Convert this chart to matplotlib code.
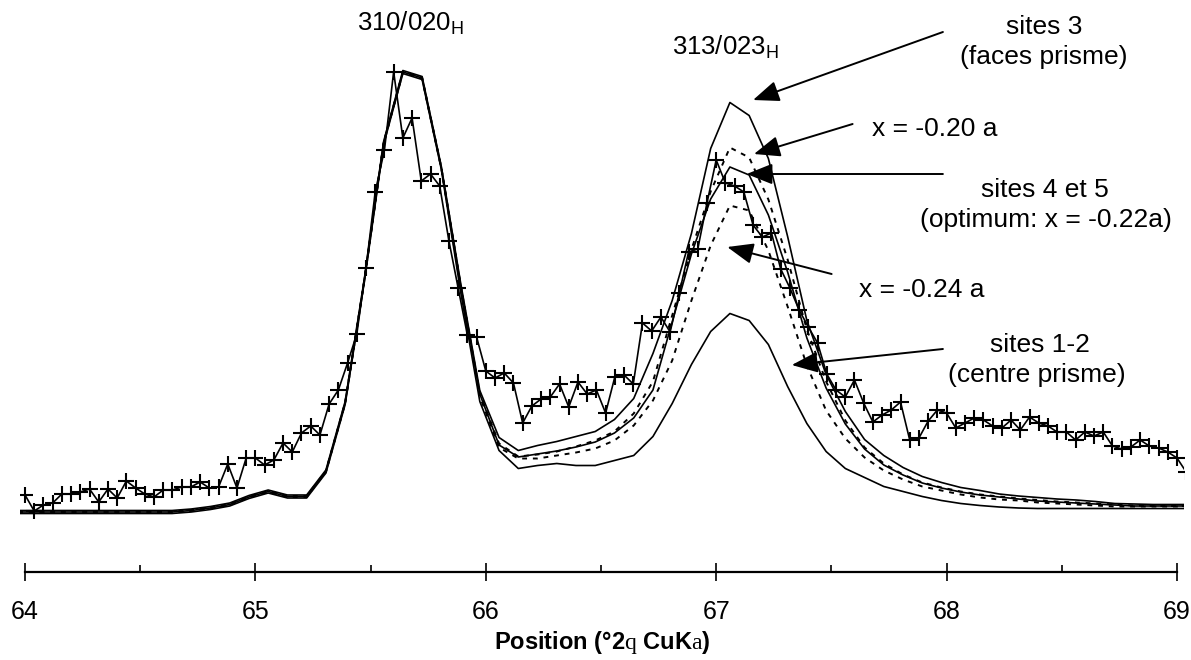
import numpy as np
import matplotlib
matplotlib.use('Agg')
from matplotlib import pyplot as plt

plt.rcParams['font.family'] = ['Liberation Sans', 'DejaVu Sans']
plt.rcParams['mathtext.fontset'] = 'custom'
plt.rcParams['mathtext.rm'] = 'Liberation Serif'                 # q / a drawn in a serif face, like Symbol fallback

# experimental pattern, step 0.04 deg (last point falls past 69 and is clipped)
x_obs = np.round(np.arange(64.0, 69.045, 0.04), 2)
obs = [17, 1, 7, 9, 18, 18, 20, 23, 10, 23, 14, 31, 24, 18, 15, 22, 22, 25, 25, 30,
       24, 25, 48, 24, 54, 54, 47, 52, 69, 60, 79, 86, 77, 108, 122, 149, 178, 244, 320, 362,
       440, 374, 394, 331, 338, 326, 271, 224, 177, 175, 141, 134, 139, 129, 89, 106, 113, 115, 128, 105,
       130, 118, 122, 99, 135, 137, 128, 189, 181, 195, 180, 219, 260, 263, 309, 352, 329, 326, 320, 287,
       275, 279, 243, 224, 202, 185, 169, 138, 122, 115, 132, 109, 90, 97, 102, 110, 72, 74, 91, 102,
       99, 84, 89, 94, 92, 86, 84, 92, 82, 95, 89, 86, 80, 80, 72, 80, 76, 80, 66, 63,
       65, 72, 66, 64, 60, 54, 40]

# calculated patterns (coarser step)
x_calc = np.round(63.97 + 0.0835 * np.arange(62), 4)
common = [0, 0, 0, 0, 0, 0, 0, 0, 0, 1.5, 4, 7.5, 15, 20.5, 15.5, 15.5, 40.5, 109, 232, 369,
          440, 434, 344]
sites3 = common + [228, 120, 73, 60, 65, 69, 74, 79, 91, 112, 157, 210, 277, 362, 408, 395, 352, 274, 190, 136,
                   99, 71, 55, 43, 34, 28, 23, 20, 16.5, 14.5, 13, 11.5, 10.5, 9, 7, 6.5, 6, 6, 6]
x020 = common + [227, 118, 68, 55, 57, 60, 65, 71, 80, 98, 130, 196, 262, 320, 364, 354, 312, 252, 182, 130,
                 91, 64, 48, 37, 29, 24, 20, 17, 15, 13, 11.5, 10, 9, 8, 7, 6, 5.5, 5.5, 5.5]
sites45 = common + [227, 118, 67, 55, 58, 61, 65, 70, 79, 94, 122, 190, 258, 313, 345, 337, 297, 240, 174, 124,
                    88, 63, 47, 37, 29, 24, 20, 17, 15, 13, 11, 10, 9, 8, 7, 6, 6, 6, 6]
x024 = common + [226, 116, 65, 54, 54, 57, 60, 64, 72, 87, 112, 152, 212, 267, 307, 302, 262, 206, 147, 102,
                 74, 55, 42, 33, 26, 22, 18, 15, 13, 12, 10, 9, 8, 7, 6, 6, 6, 6, 6]
sites12 = common + [222, 112, 63, 45, 48, 50, 48, 48, 53, 58, 77, 110, 149, 182, 200, 193, 169, 127, 90, 62,
                    45, 36, 27, 22, 17, 13, 10, 8, 6.5, 5.5, 5, 5, 5, 5, 5, 5, 5, 5, 5]

fig = plt.figure(figsize=(11.91, 6.6), dpi=100, facecolor='w')
ax = fig.add_axes([0.01713, 0.13333, 0.97691, 0.80606])

ax.plot(x_calc, np.array(sites3) + 1.5, color='k', lw=1.2)
ax.plot(x_calc, np.array(x020) + 0.5, color='k', lw=1.4, ls=(0, (2.5, 3)))
ax.plot(x_calc, sites45, color='k', lw=1.2)
ax.plot(x_calc, np.array(x024) - 0.5, color='k', lw=1.4, ls=(0, (2.5, 3)))
ax.plot(x_calc, np.array(sites12) - 1.5, color='k', lw=1.2)
ax.plot(x_obs, obs, color='k', lw=1.2, marker='+', ms=11, mew=1.5)     # experimental

ax.set_xlim(63.98, 69.03)
ax.set_ylim(-60, 472)

# axis: only the bottom line, ticks crossing it
for s in ['left', 'right', 'top']:
    ax.spines[s].set_visible(False)
ax.spines['bottom'].set_bounds(64, 69)
ax.spines['bottom'].set_linewidth(1.6)
ax.set_yticks([])
ax.set_xticks([64, 65, 66, 67, 68, 69])
ax.set_xticks([64.5, 65.5, 66.5, 67.5, 68.5], minor=True)
ax.tick_params(axis='x', which='major', direction='inout', length=13, width=1.2, pad=14, labelsize=18)
ax.tick_params(axis='x', which='minor', direction='in', length=5, width=1.2)
ax.set_xlabel(r'Position (°2$\mathrm{q}$ CuK$\mathrm{a}$)', fontsize=17, fontweight='bold', labelpad=3)

# peak labels
ax.text(65.675, 489, r'310/020$_\mathregular{H}$', fontsize=18.5, ha='center', va='center')
ax.text(67.04, 465, r'313/023$_\mathregular{H}$', fontsize=18.5, ha='center', va='center')

# labels + arrows
arrow = dict(arrowstyle='-|>,head_length=0.8,head_width=0.32', mutation_scale=20,
             lw=1.4, color='k', shrinkA=0, shrinkB=0)
notes = [('sites 3', 68.423, 485), ('(faces prisme)', 68.423, 455),
         ('x = -0.20 a', 67.95, 383),
         ('sites 4 et 5', 68.427, 322), ('(optimum: x = -0.22a)', 68.43, 292),
         ('x = -0.24 a', 67.89, 222),
         ('sites 1-2', 68.405, 167), ('(centre prisme)', 68.39, 137)]
for t, tx, ty in notes:
    ax.text(tx, ty, t, fontsize=19, ha='center', va='center', clip_on=False)

arrows = [((67.160, 412), (67.984, 480)),
          ((67.164, 358), (67.592, 388)),
          ((67.132, 338), (67.984, 338)),
          ((67.048, 265), (67.501, 238)),
          ((67.328, 147), (67.984, 163))]
for head, tail in arrows:
    ax.annotate('', xy=head, xytext=tail, arrowprops=arrow, annotation_clip=False)

fig.savefig('out.png', dpi=100, facecolor='w')
